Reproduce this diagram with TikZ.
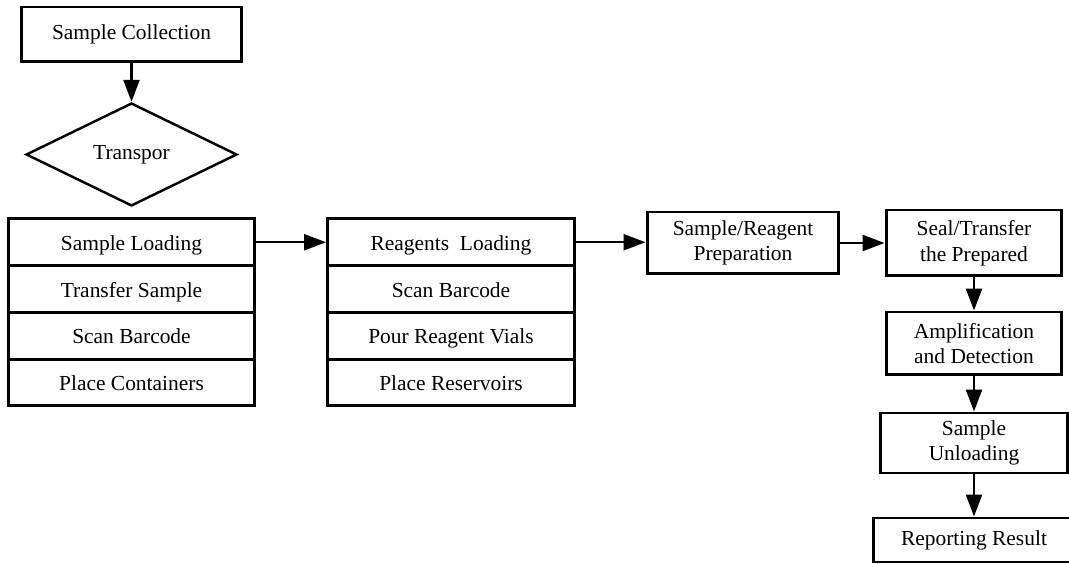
\documentclass[tikz,border=0pt]{standalone}
\usepackage{fontspec}
\setmainfont{Liberation Serif}
\usepackage{tikz}
\usetikzlibrary{arrows.meta,shapes.geometric,positioning}

\tikzset{
  box/.style={draw, line width=1.7pt, align=center, inner sep=2pt, font=\fontsize{12.2}{14.5}\selectfont},
  row/.style={box, minimum width=4.94cm, minimum height=0.935cm, text height=2.2ex, text depth=0.2ex},
  arr/.style={-{Triangle[length=0.44cm,width=0.32cm]}, line width=1.4pt},
}

\begin{document}
\begin{tikzpicture}[x=0.02cm,y=-0.02cm]
                    \useasboundingbox (0,0) rectangle (1069,564);

                    \node[box, minimum width=4.42cm, minimum height=1.1cm] (collect) at (131.5,34.5) {Sample Collection};
                    \node[box, diamond, line width=1.4pt, inner sep=0pt, minimum width=4.22cm, minimum height=2.06cm] (transp) at (131.5,154.5) {Transpor};

                    \foreach \t [count=\i] in {Sample Loading, Transfer Sample, Scan Barcode, Place Containers}
                    {\node[row] (sl\i) at (131.5,195.5+46.75*\i) {\t};}

                    \foreach \t [count=\i] in {Reagents\ \ Loading, Scan Barcode, Pour Reagent Vials, Place Reservoirs}
                    {\node[row] (rl\i) at (451,195.5+46.75*\i) {\t};}

                    \node[box, minimum width=3.84cm, minimum height=1.24cm] (prep) at (743,243) {Sample/Reagent\\Preparation};
                    \node[box, minimum width=3.52cm, minimum height=1.32cm] (seal) at (974,243) {Seal/Transfer\\the Prepared};
                    \node[box, minimum width=3.52cm, minimum height=1.26cm] (ampl) at (974,343.5) {Amplification\\and Detection};
                    \node[box, minimum width=3.76cm, minimum height=1.2cm] (unload) at (974,443) {Sample\\Unloading};
                    \node[box, minimum width=4.04cm, minimum height=0.88cm] (report) at (974,540) {Reporting Result};

                    \draw[arr] (collect) -- (transp);
                    \draw[arr] (sl1) -- (rl1);
                    \draw[arr] (rl1.east) -- (prep.west |- rl1.east);
                    \draw[arr] (prep) -- (seal);
                    \draw[arr] (seal) -- (ampl);
                    \draw[arr] (ampl) -- (unload);
                    \draw[arr] (unload) -- (report);
                \end{tikzpicture}
\end{document}
